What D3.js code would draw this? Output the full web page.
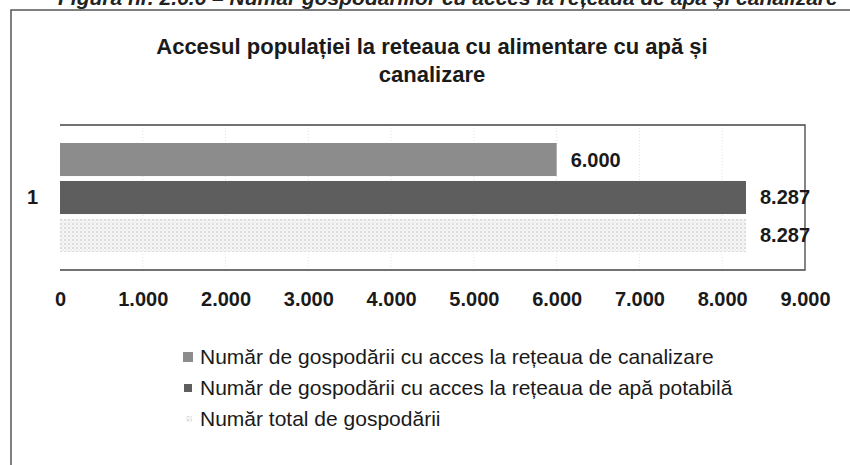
<!DOCTYPE html>
<html>
<head>
<meta charset="utf-8">
<script src="https://cdn.jsdelivr.net/npm/d3@7"></script>
<style>
  body { margin: 0; background: #fff; }
  svg { display: block; font-family: "Liberation Sans", Arial, sans-serif; }
</style>
</head>
<body>
<svg id="chart" width="850" height="465"></svg>
<script>
const categories = ["1"];
const seriesNames = [
  "Număr de gospodării cu acces la rețeaua de canalizare",
  "Număr de gospodării cu acces la rețeaua de apă potabilă",
  "Număr total de gospodării",
];
const seriesValues = [6000, 8287, 8287];
const xTicks = [0, 1000, 2000, 3000, 4000, 5000, 6000, 7000, 8000, 9000];
const titleLines = ["Accesul populației la reteaua cu alimentare cu apă și", "canalizare"];
const caption = "Figura nr. 2.6.6 – Număr gospodăriilor cu acces la rețeaua de apă și canalizare";

const svg = d3.select("#chart");
const ro = d3.formatLocale({ decimal: ",", thousands: ".", grouping: [3], currency: ["", ""] });
const fmt = ro.format(",d");

const plot = { left: 60, right: 805, top: 125, bottom: 270 };

// textures for the scanned gray fills
const defs = svg.append("defs");
const dots = defs.append("pattern")
  .attr("id", "lightdots")
  .attr("width", 4).attr("height", 4)
  .attr("patternUnits", "userSpaceOnUse");
dots.append("rect").attr("width", 4).attr("height", 4).attr("fill", "#f6f6f6");
dots.append("circle").attr("cx", 1).attr("cy", 1).attr("r", 0.7).attr("fill", "#b0b0b0");
dots.append("circle").attr("cx", 3).attr("cy", 3).attr("r", 0.5).attr("fill", "#d4d4d4");

const fills = ["#8c8c8c", "#5e5e5e", "url(#lightdots)"];

// caption (cut off at top of scan) and outer frame
svg.append("text")
  .attr("x", 58).attr("y", 5)
  .attr("font-size", 21).attr("font-style", "italic").attr("font-weight", "bold")
  .attr("fill", "#222")
  .text(caption);

svg.append("path")
  .attr("d", "M11,465 V10 H850")
  .attr("fill", "none").attr("stroke", "#555").attr("stroke-width", 1.5);

// title
svg.append("g").selectAll("text")
  .data(titleLines)
  .join("text")
  .attr("x", 432)
  .attr("y", (d, i) => 54 + i * 28)
  .attr("text-anchor", "middle")
  .attr("font-size", 22)
  .attr("font-weight", "bold")
  .attr("fill", "#1a1a1a")
  .text((d) => d);

const x = d3.scaleLinear().domain([0, 9000]).range([plot.left, plot.right]);
const y0 = d3.scaleBand().domain(categories).range([plot.top, plot.bottom]).paddingOuter(0.165);
const y1 = d3.scaleBand().domain(d3.range(seriesNames.length)).range([0, y0.bandwidth()]).paddingInner(0.13);

// faint gridlines
svg.append("g").selectAll("line")
  .data(xTicks.slice(1, -1))
  .join("line")
  .attr("x1", (d) => x(d)).attr("x2", (d) => x(d))
  .attr("y1", plot.top).attr("y2", plot.bottom)
  .attr("stroke", "#e2e2e2").attr("stroke-dasharray", "1,2");

// plot frame (top, bottom, right)
svg.append("path")
  .attr("d", `M${plot.left},${plot.top} H${plot.right} V${plot.bottom} H${plot.left}`)
  .attr("fill", "none").attr("stroke", "#444").attr("stroke-width", 1.3);

// bars
const grp = svg.append("g")
  .selectAll("g")
  .data(categories)
  .join("g")
  .attr("transform", (c) => `translate(0,${y0(c)})`);

grp.selectAll("rect")
  .data(seriesValues.map((v, i) => ({ v, i })))
  .join("rect")
  .attr("x", x(0))
  .attr("y", (d) => y1(d.i))
  .attr("width", (d) => x(d.v) - x(0))
  .attr("height", y1.bandwidth())
  .attr("fill", (d) => fills[d.i]);

grp.selectAll("text.val")
  .data(seriesValues.map((v, i) => ({ v, i })))
  .join("text")
  .attr("class", "val")
  .attr("x", (d) => x(d.v) + 14)
  .attr("y", (d) => y1(d.i) + y1.bandwidth() / 2)
  .attr("dy", "0.35em")
  .attr("font-size", 20)
  .attr("font-weight", "bold")
  .attr("fill", "#1a1a1a")
  .text((d) => fmt(d.v));

// axes
const yAxis = svg.append("g")
  .attr("transform", `translate(${plot.left},0)`)
  .call(d3.axisLeft(y0).tickSize(0).tickPadding(22));
yAxis.select(".domain").remove();
yAxis.selectAll("text")
  .attr("font-size", 20).attr("font-weight", "bold").attr("fill", "#1a1a1a")
  .attr("font-family", "Liberation Sans, Arial, sans-serif");

const xAxis = svg.append("g")
  .attr("transform", `translate(0,${plot.bottom})`)
  .call(d3.axisBottom(x).tickValues(xTicks).tickFormat(fmt).tickSize(0).tickPadding(22));
xAxis.select(".domain").remove();
xAxis.selectAll("text")
  .attr("font-size", 20).attr("font-weight", "bold").attr("fill", "#1a1a1a")
  .attr("font-family", "Liberation Sans, Arial, sans-serif");

// legend
const legend = svg.append("g")
  .selectAll("g")
  .data(seriesNames)
  .join("g")
  .attr("transform", (d, i) => `translate(183,${357 + i * 31})`);

legend.append("rect")
  .attr("x", (d, i) => (i === 0 ? 0 : i === 1 ? 1 : 3))
  .attr("y", (d, i) => (i === 0 ? -5 : i === 1 ? -4 : -3))
  .attr("width", (d, i) => (i === 0 ? 10 : i === 1 ? 8 : 6))
  .attr("height", (d, i) => (i === 0 ? 10 : i === 1 ? 8 : 6))
  .attr("fill", (d, i) => fills[i]);

legend.append("text")
  .attr("x", 17)
  .attr("dy", "0.35em")
  .attr("font-size", 21)
  .attr("fill", "#1a1a1a")
  .text((d) => d);
</script>
</body>
</html>
